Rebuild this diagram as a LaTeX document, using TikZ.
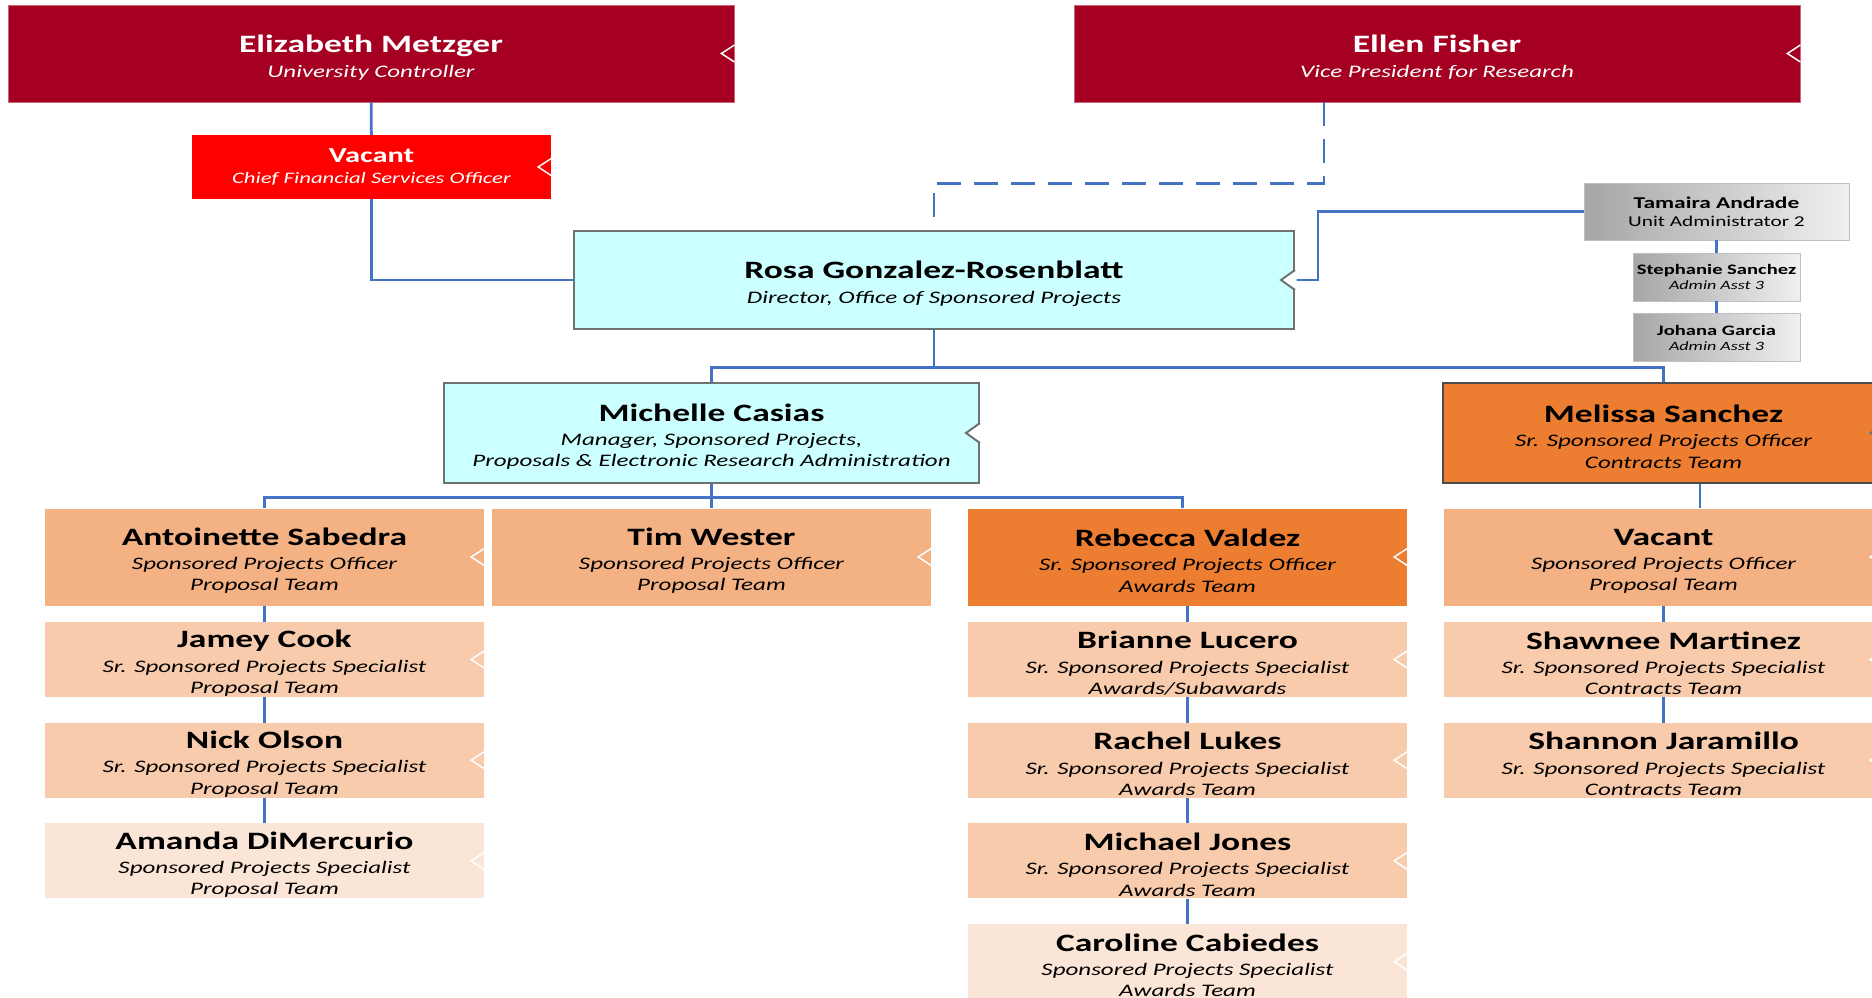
\documentclass[tikz,border=0pt]{standalone}
\usepackage{fontspec}
\setmainfont{Carlito}[FakeStretch=1.42]
\definecolor{ctrlred}{HTML}{A50021}
\definecolor{vacred}{HTML}{FF0000}
\definecolor{ospcyan}{HTML}{CCFFFF}
\definecolor{ospgray}{HTML}{6D7373}
\definecolor{leadorange}{HTML}{ED7D31}
\definecolor{officerorange}{HTML}{F4B183}
\definecolor{seniorpeach}{HTML}{F8CBAD}
\definecolor{juniorpeach}{HTML}{FBE5D6}
\definecolor{linkblue}{HTML}{4472C4}
\newcommand{\pname}[1]{{\fontsize{25}{25}\selectfont\bfseries\upshape\rule{0pt}{25pt}#1}}
\tikzstyle{vp} = [rectangle, 
minimum width=726pt, 
minimum height=97pt, 
inner sep=0pt, 
align=center, 
draw=ctrlred!60!white, 
line width=0.8pt, 
fill=ctrlred, 
text=white, 
font=\fontsize{17.6}{21.3}\selectfont\itshape]
\tikzstyle{cfo} = [rectangle, 
minimum width=359pt, 
minimum height=64pt, 
inner sep=0pt, 
align=center, 
fill=vacred, 
text=white, 
font=\fontsize{16}{19}\selectfont\itshape]
\tikzstyle{office} = [rectangle, 
inner sep=0pt, 
align=center, 
draw=ospgray, 
line width=2pt, 
fill=ospcyan, 
font=\fontsize{17.6}{21.3}\selectfont\itshape]
\tikzstyle{officer} = [rectangle, 
minimum width=439pt, 
minimum height=97pt, 
inner sep=0pt, 
align=center, 
fill=officerorange, 
font=\fontsize{17.6}{21.3}\selectfont\itshape]
\tikzstyle{lead} = [officer, minimum width=441pt, minimum height=100pt, fill=leadorange, draw=black!70, line width=1.2pt]
\tikzstyle{senior} = [officer, minimum height=75pt, fill=seniorpeach]
\tikzstyle{junior} = [senior, fill=juniorpeach]
\tikzstyle{admin} = [rectangle, 
inner sep=0pt, 
align=center, 
draw=black!25, 
left color=black!35, 
middle color=white, 
right color=black!6]
\tikzstyle{orgline} = [draw=linkblue, line width=2.8pt]

\begin{document}
\begin{tikzpicture}[x=1pt, y=-1pt, node distance=100.7pt]
        \useasboundingbox (0,0) rectangle (1872,998);
        \clip (0,0) rectangle (1872,998);
        % top of the office
        \node (em) [vp] at (371,53.5) {\pname{Elizabeth Metzger}\\[3.7pt] University Controller};
        \node (ef) [vp] at (1437,53.5) {\pname{Ellen Fisher}\\[3.7pt] Vice President for Research};
        \node (cfo) [cfo] at (371.5,167) {{\fontsize{21.4}{21.4}\selectfont\bfseries\upshape Vacant}\\[2.7pt] Chief Financial Services Officer};
        \node (ros) [office, minimum width=720pt, minimum height=98pt] at (934,280) {\pname{Rosa Gonzalez-Rosenblatt}\\[3pt] Director, Office of Sponsored Projects};
        \node (mc) [office, minimum width=535pt, minimum height=100pt] at (711.5,433) {\pname{Michelle Casias}\\[3pt] Manager, Sponsored Projects,\\ Proposals \& Electronic Research Administration};
        \node (ms) [lead] at (1663.5,433) {\pname{Melissa Sanchez}\\[3pt] Sr. Sponsored Projects Officer\\ Contracts Team};
        % support staff
        \node (ta) [admin, minimum width=265pt, minimum height=57pt, font=\fontsize{15}{16.5}\selectfont] at (1716.5,211.5) {{\fontsize{16.5}{16.5}\selectfont\bfseries Tamaira Andrade}\\[1.2pt] Unit Administrator 2};
        \node (ss) [admin, minimum width=167pt, minimum height=48pt, font=\fontsize{12.7}{12.7}\selectfont\itshape, below of=ta, node distance=65.5pt] {{\fontsize{14.5}{14.5}\selectfont\bfseries\upshape Stephanie Sanchez}\\[2.3pt] Admin Asst 3};
        \node (jg) [admin, minimum width=167pt, minimum height=48pt, font=\fontsize{12.7}{12.7}\selectfont\itshape, below of=ss, node distance=60.5pt] {{\fontsize{14.5}{14.5}\selectfont\bfseries\upshape Johana Garcia}\\[2.3pt] Admin Asst 3};
        % officers
        \node (as) [officer] at (264.5,557) {\pname{Antoinette Sabedra}\\[3pt] Sponsored Projects Officer\\ Proposal Team};
        \node (tw) [officer] at (711.5,557) {\pname{Tim Wester}\\[3pt] Sponsored Projects Officer\\ Proposal Team};
        \node (rv) [officer, fill=leadorange] at (1187.5,557) {\pname{Rebecca Valdez}\\[3pt] Sr. Sponsored Projects Officer\\ Awards Team};
        \node (vr) [officer] at (1663.5,557) {\pname{Vacant}\\[3pt] Sponsored Projects Officer\\ Proposal Team};
        % specialists
        \node (jc) [senior, below of=as, node distance=102.5pt] {\pname{Jamey Cook}\\[3pt] Sr. Sponsored Projects Specialist\\ Proposal Team};
        \node (no) [senior, below of=jc] {\pname{Nick Olson}\\[3pt] Sr. Sponsored Projects Specialist\\ Proposal Team};
        \node (ad) [junior, below of=no] {\pname{Amanda DiMercurio}\\[3pt] Sponsored Projects Specialist\\ Proposal Team};
        \node (bl) [senior, below of=rv, node distance=102.5pt] {\pname{Brianne Lucero}\\[3pt] Sr. Sponsored Projects Specialist\\ Awards/Subawards};
        \node (rl) [senior, below of=bl] {\pname{Rachel Lukes}\\[3pt] Sr. Sponsored Projects Specialist\\ Awards Team};
        \node (mj) [senior, below of=rl] {\pname{Michael Jones}\\[3pt] Sr. Sponsored Projects Specialist\\ Awards Team};
        \node (cc) [junior, below of=mj] {\pname{Caroline Cabiedes}\\[3pt] Sponsored Projects Specialist\\ Awards Team};
        \node (sm) [senior, below of=vr, node distance=102.5pt] {\pname{Shawnee Martinez}\\[3pt] Sr. Sponsored Projects Specialist\\ Contracts Team};
        \node (sj) [senior, below of=sm] {\pname{Shannon Jaramillo}\\[3pt] Sr. Sponsored Projects Specialist\\ Contracts Team};
        % lines
        \draw [orgline] (em) -- (cfo);
        \draw [orgline] (cfo.south) |- (ros.west);
        \draw [orgline, dash pattern=on 24pt off 13pt] ([xshift=-113pt]ef.south) -- ++(0,81) -| (ros.north);
        \draw [orgline] (ta.west) -| ([xshift=23pt]ros.east) -- (ros.east);
        \draw [orgline] (ros.south) -- ++(0,37.7) -| (mc.north);
        \draw [orgline] (ros.south) -- ++(0,37.7) -| (ms.north);
        \draw [orgline] (mc.south) -- ++(0,13.7) -| (as.north);
        \draw [orgline] (mc.south) -- ++(0,13.7) -| ([xshift=-5pt]rv.north);
        \draw [orgline] (mc) -- (tw);
        \draw [orgline] ([xshift=36.5pt]ms.south) -- ([xshift=36.5pt]ms.south |- vr.north);
        \foreach \a/\b in {as/jc, jc/no, no/ad, rv/bl, bl/rl, rl/mj, mj/cc, vr/sm, sm/sj, ta/ss, ss/jg}
            \draw [orgline] (\a) -- (\b);
        % collapse marks
        \foreach \n in {em, ef, cfo, as, tw, rv, vr, jc, no, ad, bl, rl, mj, cc, sm, sj}
            \draw [white, line width=1.5pt] ([yshift=8.5pt]\n.east) -- ([xshift=-13pt]\n.east) -- ([yshift=-8.5pt]\n.east);
        \foreach \n in {ros, mc, ms} {
            \fill [white] ([xshift=1.5pt, yshift=10pt]\n.east) -- ([xshift=-14pt]\n.east) -- ([xshift=1.5pt, yshift=-10pt]\n.east) -- cycle;
            \draw [ospgray, line width=2pt] ([yshift=10pt]\n.east) -- ([xshift=-14pt]\n.east) -- ([yshift=-10pt]\n.east);
        }
    \end{tikzpicture}
\end{document}
